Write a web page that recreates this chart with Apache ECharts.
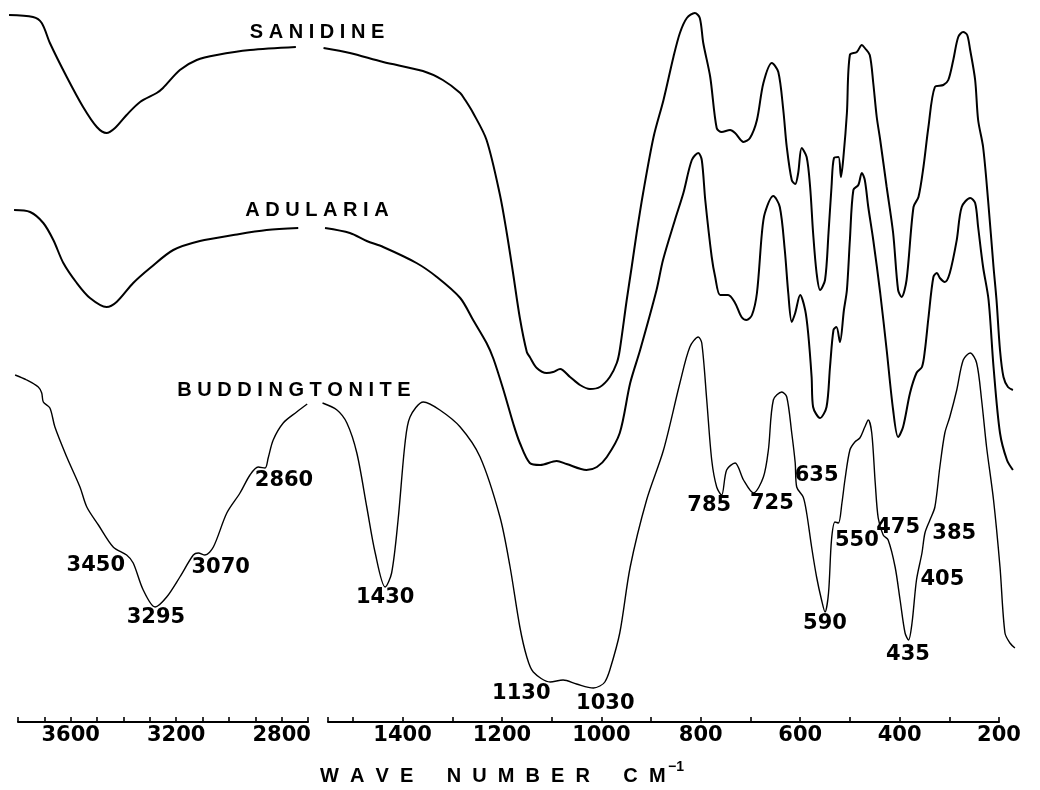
<!DOCTYPE html>
<html><head><meta charset="utf-8">
<script src="https://cdn.jsdelivr.net/npm/echarts@6/dist/echarts.min.js"></script>
<style>html,body{margin:0;padding:0;background:#fff}#c{width:1040px;height:790px}</style>
</head><body><div id="c"></div><script>
// Wavenumber (cm-1) vs. relative transmittance (arbitrary, offset traces)
const sanidineLeft = [[3834,707],[3743,705],[3710,699],[3679,679],[3615,645],[3553,615],[3501,595],[3464,589],[3432,594],[3388,607],[3337,620],[3274,629],[3250,634],[3186,652],[3122,662],[3046,667],[2920,672],[2746,675]];
const sanidineRight = [[1559,674],[1506,669],[1439,660],[1359,651],[1319,642],[1284,629],[1274,622],[1258,609],[1231,582],[1204,527],[1190,488],[1178,450],[1164,404],[1150,370],[1144,365],[1130,354],[1110,349],[1097,350],[1083,353],[1063,345],[1043,337],[1023,333],[1003,335],[983,345],[969,359],[963,372],[949,422],[939,455],[929,489],[916,529],[895,585],[875,622],[855,665],[842,689],[828,704],[812,709],[802,704],[795,679],[781,645],[768,594],[758,590],[741,592],[731,589],[714,580],[701,584],[687,602],[674,639],[657,659],[644,650],[634,612],[627,575],[617,542],[610,538],[604,549],[597,574],[587,565],[580,535],[574,489],[567,449],[560,432],[550,442],[543,489],[537,535],[532,564],[523,565],[518,545],[513,565],[506,609],[500,667],[486,670],[476,677],[470,674],[460,667],[453,639],[446,605],[439,582],[426,535],[413,489],[403,432],[396,425],[386,442],[372,515],[362,525],[352,555],[342,595],[329,635],[312,637],[302,642],[292,662],[282,685],[272,690],[264,687],[258,672],[248,642],[242,602],[232,575],[222,522],[211,455],[205,422],[198,372],[191,345],[182,335],[172,332]];
const adulariaLeft = [[3815,512],[3754,510],[3704,499],[3666,482],[3628,459],[3577,439],[3527,424],[3464,415],[3426,420],[3363,439],[3299,454],[3211,472],[3110,481],[2983,487],[2857,492],[2737,494]];
const adulariaRight = [[1556,494],[1506,489],[1472,481],[1439,475],[1372,459],[1331,445],[1284,424],[1258,402],[1231,379],[1217,363],[1197,332],[1177,298],[1164,279],[1144,259],[1123,257],[1090,261],[1070,258],[1030,252],[1009,255],[989,265],[963,289],[942,339],[922,372],[889,432],[876,462],[852,502],[835,529],[818,562],[805,569],[798,562],[791,522],[778,465],[771,445],[761,427],[745,427],[731,419],[718,405],[708,402],[697,407],[687,429],[677,489],[671,509],[654,526],[641,515],[631,472],[624,429],[617,400],[610,409],[600,427],[590,412],[584,389],[577,345],[574,315],[560,304],[547,315],[540,355],[533,392],[527,395],[520,380],[512,412],[506,432],[500,482],[493,532],[483,537],[476,549],[470,542],[463,515],[453,482],[439,429],[426,372],[413,312],[403,285],[393,295],[379,329],[366,349],[355,355],[349,372],[342,404],[332,445],[325,449],[319,444],[309,440],[299,449],[285,482],[275,515],[258,524],[248,519],[242,495],[232,455],[221,422],[211,355],[198,289],[184,262],[172,252]];
const buddingtoniteLeft = [[3811,347],[3767,342],[3723,335],[3710,329],[3704,320],[3679,314],[3660,295],[3615,265],[3565,235],[3539,215],[3495,197],[3439,175],[3388,167],[3363,159],[3325,132],[3280,115],[3236,125],[3186,145],[3135,167],[3116,169],[3091,167],[3059,175],[3008,209],[2958,229],[2920,247],[2889,255],[2863,254],[2851,264],[2832,282],[2794,299],[2743,310],[2703,318]];
const buddingtoniteRight = [[1561,319],[1532,312],[1512,299],[1492,269],[1472,215],[1455,169],[1435,135],[1422,149],[1409,202],[1395,279],[1385,305],[1358,320],[1325,312],[1284,295],[1244,265],[1204,205],[1184,156],[1164,95],[1150,65],[1137,50],[1103,40],[1077,42],[1050,38],[1016,34],[1003,36],[993,40],[983,52],[963,89],[942,155],[909,222],[875,272],[842,339],[822,375],[805,385],[798,379],[788,322],[778,262],[768,235],[758,227],[748,252],[731,259],[714,242],[694,229],[674,245],[664,272],[654,322],[637,330],[627,325],[617,289],[610,259],[607,235],[594,225],[587,209],[577,175],[567,145],[557,122],[550,110],[543,129],[537,182],[530,200],[523,199],[516,219],[510,242],[500,272],[490,280],[480,284],[470,295],[463,302],[456,289],[449,239],[443,204],[433,187],[423,182],[409,155],[399,122],[389,89],[382,82],[375,99],[366,142],[355,169],[349,189],[339,202],[329,215],[319,255],[309,289],[299,305],[285,332],[272,362],[258,369],[245,359],[235,322],[225,275],[211,222],[198,155],[188,89],[178,79],[168,74]];
// peak annotations: [text, wavenumber position, level]
const peakLabelsLeft = [['3450',3505,156],['3295',3277,104],['3070',3031,154],['2860',2791,241]];
const peakLabelsRight = [['1430',1435,124],['1130',1161,28],['1030',992,18],['785',783,216],['725',657,218],['635',567,246],['590',550,98],['550',486,181],['475',403,194],['385',290,188],['405',314,142],['435',383,67]];
const leftTickLabels = [3600,3200,2800];
const rightTickLabels = [1400,1200,1000,800,600,400,200];
const traceNames = ['SANIDINE','ADULARIA','BUDDINGTONITE'];
const axisTitle = ['WAVE','NUMBER','CM'];

// layout
const H = 722;
const L = {min:2700, max:3800, dMax:3840, left:18, width:290};
const R = {min:200, max:1550, dMin:165, dMax:1570, left:328, width:671};
const kL = L.width/(L.max-L.min), kR = R.width/(R.max-R.min);

const chart = echarts.init(document.getElementById('c'));
const numFont = {fontFamily:'DejaVu Sans', fontWeight:'bold', fontSize:21, color:'#000'};
function axisX(gi, min, max, labels){
  return {gridIndex:gi, type:'value', inverse:true, min, max, interval:100,
    axisLine:{show:true, lineStyle:{color:'#000', width:2}},
    axisTick:{show:true, inside:true, length:5, lineStyle:{color:'#000', width:1.6}},
    splitLine:{show:false},
    axisLabel:Object.assign({margin:3, showMinLabel:true, showMaxLabel:true,
      formatter:v=>labels.indexOf(v)>=0?String(v):''}, numFont)};
}
function hiddenX(gi,min,max){return {gridIndex:gi,type:'value',inverse:true,min,max,show:false};}
function hiddenY(gi){return {gridIndex:gi,type:'value',min:0,max:H,show:false};}
function trace(gi, data, w){
  return {type:'line', xAxisIndex:gi, yAxisIndex:gi, data, symbol:'none', smooth:0.3,
    lineStyle:{color:'#000', width:w}, silent:true};
}
function labels(gi, arr){
  return {type:'scatter', xAxisIndex:gi, yAxisIndex:gi, symbolSize:1, silent:true,
    itemStyle:{color:'rgba(0,0,0,0)'},
    data:arr.map(a=>({name:a[0], value:[a[1],a[2]]})),
    label:Object.assign({show:true, position:[0.5,0.5], align:'center', verticalAlign:'middle',
      formatter:'{b}', opacity:1, textBorderWidth:0}, numFont)};
}
const spaced = (s, sep) => s.split('').join(sep);
chart.setOption({
  animation:false,
  backgroundColor:'#fff',
  grid:[
    {left:L.left-(L.dMax-L.max)*kL, width:(L.dMax-L.min)*kL, top:0, height:H},
    {left:R.left-(R.dMax-R.max)*kR, width:(R.dMax-R.dMin)*kR, top:0, height:H},
    {left:L.left, width:L.width, top:0, height:H},
    {left:R.left, width:R.width, top:0, height:H}
  ],
  xAxis:[hiddenX(0,L.min,L.dMax), hiddenX(1,R.dMin,R.dMax),
    axisX(2,L.min,L.max,leftTickLabels), axisX(3,R.min,R.max,rightTickLabels)],
  yAxis:[hiddenY(0),hiddenY(1),hiddenY(2),hiddenY(3)],
  series:[
    trace(0,sanidineLeft,2), trace(1,sanidineRight,2),
    trace(0,adulariaLeft,2), trace(1,adulariaRight,2),
    trace(0,buddingtoniteLeft,1.4), trace(1,buddingtoniteRight,1.4),
    labels(0,peakLabelsLeft), labels(1,peakLabelsRight)
  ],
  graphic:[
    {type:'text', x:317, y:32, style:{text:spaced(traceNames[0],' '), font:'bold 20px "Liberation Sans"', fill:'#000', textAlign:'center', textVerticalAlign:'middle'}},
    {type:'text', x:317, y:210, style:{text:spaced(traceNames[1],' '), font:'bold 20px "Liberation Sans"', fill:'#000', textAlign:'center', textVerticalAlign:'middle'}},
    {type:'text', x:294, y:390, style:{text:spaced(traceNames[2],' '), font:'bold 20px "Liberation Sans"', fill:'#000', textAlign:'center', textVerticalAlign:'middle'}},
    {type:'text', x:320, y:776, style:{text:axisTitle.map(w=>spaced(w,'  ')).join('      '), font:'bold 20px "Liberation Sans"', fill:'#000', textAlign:'left', textVerticalAlign:'middle'}},
    {type:'text', x:668, y:767, style:{text:'\u22121', font:'bold 14px "Liberation Sans"', fill:'#000', textAlign:'left', textVerticalAlign:'middle'}}
  ]
});
</script></body></html>
